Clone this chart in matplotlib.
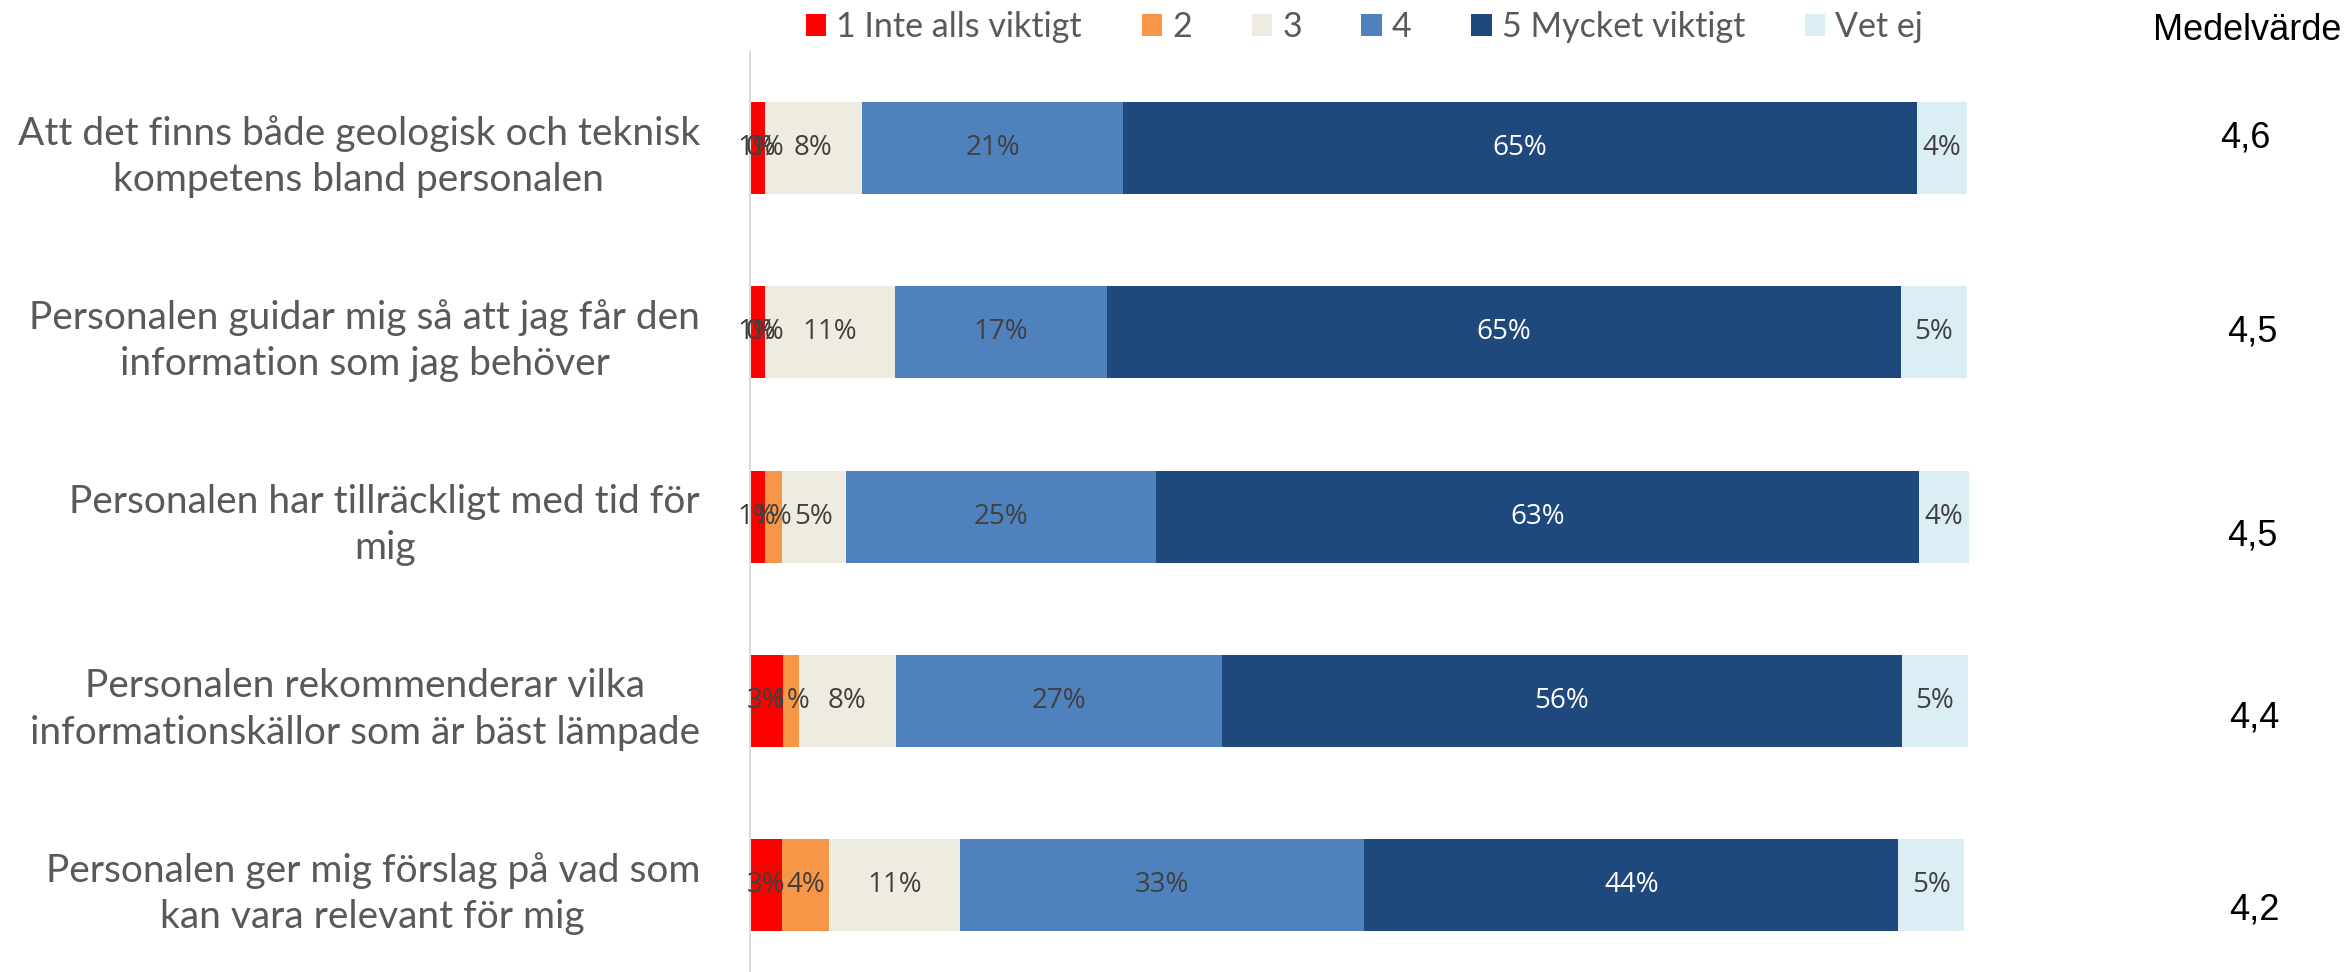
import matplotlib
matplotlib.use('Agg')
import matplotlib.pyplot as plt
import numpy as np

# Data (percent of respondents)
categories = [
    'Att det finns både geologisk och teknisk\nkompetens bland personalen',
    'Personalen guidar mig så att jag får den\ninformation som jag behöver',
    'Personalen har tillräckligt med tid för\nmig',
    'Personalen rekommenderar vilka\ninformationskällor som är bäst lämpade',
    'Personalen ger mig förslag på vad som\nkan vara relevant för mig',
]
series_names = ['1 Inte alls viktigt', '2', '3', '4', '5 Mycket viktigt', 'Vet ej']
s1 = [1.2, 1.2, 1.2, 2.7, 2.6]
s2 = [0.0, 0.0, 1.4, 1.3, 3.9]
s3 = [8.0, 10.7, 5.3, 8.0, 10.7]
s4 = [21.4, 17.4, 25.4, 26.7, 33.2]
s5 = [65.1, 65.1, 62.6, 55.8, 43.8]
s6 = [4.1, 5.4, 4.1, 5.4, 5.4]
means = ['4,6', '4,5', '4,5', '4,4', '4,2']

colors = ['#FF0000', '#F79646', '#EEECE1', '#4F81BD', '#1F497D', '#DAEEF3']
text_colors = ['#404040', '#404040', '#404040', '#404040', 'white', '#404040']

fig = plt.figure(figsize=(23.51, 9.72), dpi=100)
ax = fig.add_axes([0.319, 0.0, 0.5185, 0.9465])

y = np.arange(len(categories))
left = np.zeros(len(categories))
handles = []
for vals, name, c, tc in zip([s1, s2, s3, s4, s5, s6], series_names, colors, text_colors):
    vals = np.array(vals)
    bars = ax.barh(y, vals, left=left, height=0.5, color=c, label=name)
    handles.append(bars)
    ax.bar_label(bars, labels=[f'{v:.0f}%' for v in vals], label_type='center',
                 fontsize=20, color=tc, family='Open Sans')
    left += vals

ax.set_xlim(0, 100)
ax.set_ylim(4.47, -0.52)
ax.set_yticks(y)
ax.set_yticklabels(categories, fontsize=28, color='#595959', family='Lato',
                   multialignment='center', linespacing=1.35)
ax.tick_params(axis='y', length=0, pad=36)
ax.set_xticks([])
for side in ['top', 'right', 'bottom']:
    ax.spines[side].set_visible(False)
ax.spines['left'].set_color('#D9D9D9')
ax.spines['left'].set_linewidth(1.5)

fig.legend(handles=handles, loc='center', bbox_to_anchor=(0.5804, 0.972), ncol=6,
           frameon=False, prop={'family': 'Lato', 'size': 24.5}, labelcolor='#595959',
           handlelength=0.6, handleheight=0.6, handletextpad=0.3, columnspacing=1.75)

# Mean values column
fig.text(0.956, 0.969, 'Medelvärde', ha='center', va='center', fontsize=26,
         family='Liberation Sans', color='black')
mean_x = [0.955, 0.958, 0.958, 0.959, 0.959]
mean_y = [138, 332, 536, 718, 910]
for m, mx, my in zip(means, mean_x, mean_y):
    fig.text(mx, 1 - my / 972, m, ha='center', va='center', fontsize=26,
             family='Liberation Sans', color='black')

fig.savefig('out.png', dpi=100)
